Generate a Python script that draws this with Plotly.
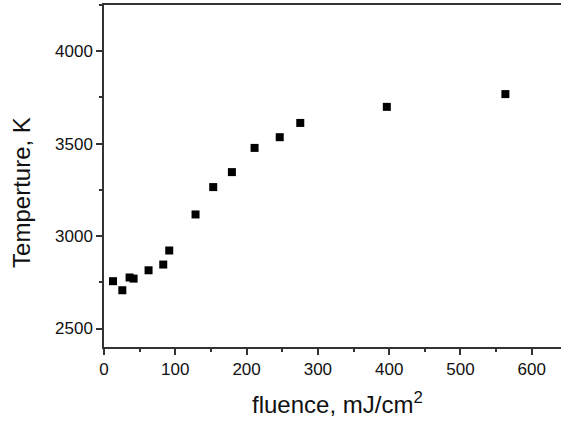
import plotly.graph_objects as go

# fluence (mJ/cm^2) vs temperature (K)
fluence = [12.6, 25.7, 35.9, 41.5, 62.5, 83.1, 91.5, 128.4, 153.2, 179.4, 211.2, 246.5, 275.3, 396.7, 563.0]
temperature = [2756, 2707, 2776, 2770, 2815, 2846, 2922, 3117, 3265, 3346, 3477, 3535, 3612, 3699, 3768]

x_ticks = [0, 100, 200, 300, 400, 500, 600]
y_ticks = [2500, 3000, 3500, 4000]

fig = go.Figure()
fig.add_trace(go.Scatter(
    x=fluence, y=temperature,
    mode='markers',
    marker=dict(symbol='square', size=8, color='black'),
    showlegend=False,
))

axis_font = dict(family='Liberation Sans, Arial, sans-serif', size=17, color='#111')

fig.update_xaxes(
    range=[0, 641],
    tickvals=x_ticks,
    ticks='outside', ticklen=6, tickwidth=1.5, tickcolor='#333',
    minor=dict(dtick=50, tick0=0, ticks='outside', ticklen=3, tickwidth=1.5, tickcolor='#333'),
    showline=True, linecolor='#333', linewidth=1.5, mirror=True,
    showgrid=False, zeroline=False,
    tickfont=axis_font,
)
fig.update_yaxes(
    range=[2400, 4250],
    tickvals=y_ticks,
    ticks='outside', ticklen=6, tickwidth=1.5, tickcolor='#333',
    minor=dict(dtick=250, tick0=2500, ticks='outside', ticklen=3, tickwidth=1.5, tickcolor='#333'),
    showline=True, linecolor='#333', linewidth=1.5,
    showgrid=False, zeroline=False,
    tickfont=axis_font,
)

title_font = dict(family='Liberation Sans, Arial, sans-serif', size=24, color='#111')
fig.add_annotation(
    text='fluence, mJ/cm<sup>2</sup>',
    xref='paper', yref='paper', x=0.51, y=-0.163,
    xanchor='center', yanchor='middle',
    showarrow=False, font=title_font,
)
fig.add_annotation(
    text='Temperture, K',
    xref='paper', yref='paper', x=-0.182, y=0.453,
    xanchor='center', yanchor='middle', textangle=-90,
    showarrow=False, font=title_font,
)

fig.update_layout(
    width=561, height=423,
    margin=dict(l=104, r=0, t=5, b=76),
    plot_bgcolor='white', paper_bgcolor='white',
)

# drop the page's default body margin so the figure sits at the window corner
fig.write_html("out.html", config={'displayModeBar': False},
               post_script="document.body.style.margin='0';")
